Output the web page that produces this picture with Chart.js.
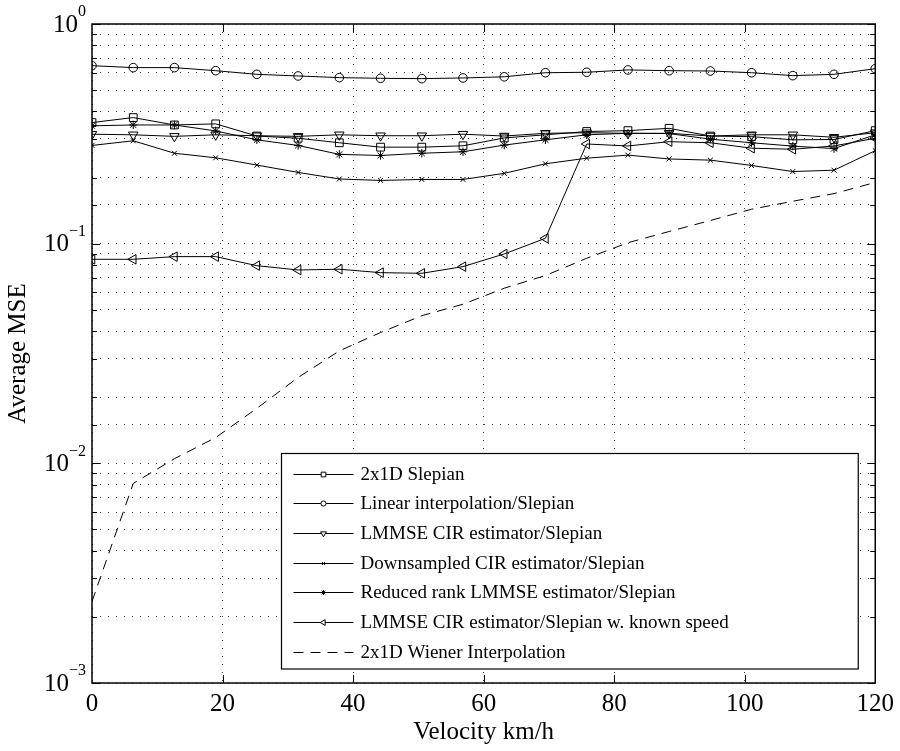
<!DOCTYPE html>
<html>
<head>
<meta charset="utf-8">
<script src="https://cdn.jsdelivr.net/npm/chart.js@4.4.0/dist/chart.umd.min.js"></script>
<style>
  html, body { margin: 0; padding: 0; background: #fff; }
  #wrap { width: 900px; height: 751px; }
</style>
</head>
<body>
<div id="wrap"><canvas id="mse" width="900" height="751"></canvas></div>
<script>
// velocities (km/h) used for every curve
const velocity = [0, 6.32, 12.63, 18.95, 25.26, 31.58, 37.89, 44.21, 50.53, 56.84,
                  63.16, 69.47, 75.79, 82.11, 88.42, 94.74, 101.05, 107.37, 113.68, 120];

// average MSE
const slepian2x1 = [0.356, 0.375, 0.347, 0.351, 0.309, 0.302, 0.288, 0.275, 0.275, 0.279,
                    0.303, 0.313, 0.324, 0.327, 0.335, 0.309, 0.307, 0.297, 0.298, 0.327];
const linearInterp = [0.646, 0.633, 0.633, 0.613, 0.590, 0.580, 0.570, 0.566, 0.564, 0.568,
                      0.575, 0.600, 0.603, 0.618, 0.613, 0.611, 0.600, 0.582, 0.590, 0.626];
const lmmseCir = [0.315, 0.313, 0.308, 0.313, 0.310, 0.308, 0.313, 0.310, 0.310, 0.315,
                  0.309, 0.318, 0.320, 0.318, 0.318, 0.309, 0.313, 0.313, 0.305, 0.320];
const downsampled = [0.280, 0.294, 0.258, 0.246, 0.228, 0.211, 0.197, 0.194, 0.196, 0.196,
                     0.209, 0.231, 0.245, 0.253, 0.243, 0.240, 0.227, 0.213, 0.216, 0.265];
const reducedRank = [0.344, 0.347, 0.347, 0.326, 0.297, 0.280, 0.255, 0.252, 0.258, 0.262,
                     0.281, 0.297, 0.313, 0.318, 0.317, 0.299, 0.288, 0.278, 0.271, 0.313];
const knownSpeed = [0.0849, 0.0849, 0.0873, 0.0873, 0.0794, 0.0759, 0.0765, 0.0738, 0.0733, 0.0786,
                    0.0898, 0.1058, 0.2843, 0.2785, 0.2912, 0.288, 0.272, 0.269, 0.2785, 0.302];
const wiener = [0.00235, 0.0081, 0.0105, 0.0131, 0.0178, 0.0246, 0.0325, 0.0394, 0.047, 0.053,
                0.0627, 0.0716, 0.0858, 0.101, 0.1136, 0.1275, 0.1435, 0.156, 0.169, 0.19];

const xTicks = [0, 20, 40, 60, 80, 100, 120];
const yDecades = [0, -1, -2, -3];

const FONT = "'Liberation Serif', 'Times New Roman', serif";

function pts(ys) {
    return velocity.map((v, i) => ({ x: v, y: ys[i] }));
}

// style per curve (marker, size, rotation, dash)
const curves = [
    { label: '2x1D Slepian', data: slepian2x1, style: 'rect', r: 5.5, rot: 0 },
    { label: 'Linear interpolation/Slepian', data: linearInterp, style: 'circle', r: 4.3, rot: 0 },
    { label: 'LMMSE CIR estimator/Slepian', data: lmmseCir, style: 'triangle', r: 5.5, rot: 180 },
    { label: 'Downsampled CIR estimator/Slepian', data: downsampled, style: 'crossRot', r: 3.5, rot: 0 },
    { label: 'Reduced rank LMMSE estimator/Slepian', data: reducedRank, style: 'star', r: 4.2, rot: 0 },
    { label: 'LMMSE CIR estimator/Slepian w. known speed', data: knownSpeed, style: 'triangle', r: 5.5, rot: 270 },
    { label: '2x1D Wiener Interpolation', data: wiener, style: false, r: 0, rot: 0, dash: [10, 7] }
];

const datasets = curves.map(c => ({
    label: c.label,
    data: pts(c.data),
    borderColor: '#000',
    backgroundColor: 'rgba(0,0,0,0)',
    borderWidth: 1,
    borderDash: c.dash || [],
    pointStyle: c.style,
    pointRadius: c.r,
    pointRotation: c.rot,
    pointBorderWidth: 1,
    pointBorderColor: '#000',
    pointBackgroundColor: 'rgba(0,0,0,0)',
    tension: 0
}));

// box, inward ticks and y labels 10^k
const axesBox = {
    id: 'axesBox',
    afterDatasetsDraw(chart) {
        const ctx = chart.ctx;
        const a = chart.chartArea;
        const xs = chart.scales.x, ys = chart.scales.y;
        ctx.save();
        ctx.strokeStyle = '#000';
        ctx.lineWidth = 1;
        ctx.beginPath();
        xTicks.slice(1, -1).forEach(v => {
            const px = Math.round(xs.getPixelForValue(v)) + 0.5;
            ctx.moveTo(px, a.bottom); ctx.lineTo(px, a.bottom - 8);
            ctx.moveTo(px, a.top); ctx.lineTo(px, a.top + 8);
        });
        ys.ticks.forEach(t => {
            const py = Math.round(ys.getPixelForValue(t.value)) + 0.5;
            const m = Math.abs(Math.log10(t.value) - Math.round(Math.log10(t.value))) < 1e-6;
            const len = m ? 8 : 5;
            ctx.moveTo(a.left, py); ctx.lineTo(a.left + len, py);
            ctx.moveTo(a.right, py); ctx.lineTo(a.right - len, py);
        });
        ctx.stroke();
        ctx.lineWidth = 1.5;
        ctx.strokeRect(a.left, a.top, a.right - a.left, a.bottom - a.top);

        ctx.fillStyle = '#000';
        ctx.textBaseline = 'middle';
        yDecades.forEach(k => {
            const py = ys.getPixelForValue(Math.pow(10, k));
            const exp = k === 0 ? '0' : '\u2212' + Math.abs(k);
            ctx.font = '16px ' + FONT;
            const ew = ctx.measureText(exp).width;
            ctx.textAlign = 'left';
            ctx.fillText(exp, a.left - 6 - ew, py - 12);
            ctx.font = '25px ' + FONT;
            ctx.textAlign = 'right';
            ctx.fillText('10', a.left - 6 - ew, py + 1);
        });
        ctx.restore();
    }
};

// legend box inside the axes
const boxLegend = {
    id: 'boxLegend',
    afterDraw(chart) {
        const ctx = chart.ctx;
        const a = chart.chartArea;
        const left = a.left + 189.5, top = a.top + 429.5, right = a.right - 17, bottom = a.bottom - 14;
        ctx.save();
        ctx.fillStyle = '#fff';
        ctx.fillRect(left, top, right - left, bottom - top);
        ctx.strokeStyle = '#000';
        ctx.lineWidth = 1.2;
        ctx.strokeRect(left, top, right - left, bottom - top);
        ctx.textBaseline = 'middle';
        ctx.textAlign = 'left';
        curves.forEach((c, i) => {
            const y = Math.round(top + 20 + i * 29.7) + 0.5;
            ctx.strokeStyle = '#000';
            ctx.lineWidth = 1;
            ctx.setLineDash(c.dash || []);
            ctx.beginPath();
            ctx.moveTo(left + 12, y);
            ctx.lineTo(left + 72, y);
            ctx.stroke();
            ctx.setLineDash([]);
            if (c.style) {
                ctx.fillStyle = '#fff';
                ctx.strokeStyle = '#000';
                Chart.helpers.drawPoint(ctx, {
                    pointStyle: c.style, radius: c.r * 0.6, rotation: c.rot, borderWidth: 1
                }, left + 42, y);
            }
            ctx.fillStyle = '#000';
            ctx.font = '19px ' + FONT;
            ctx.fillText(c.label, left + 79, y + 1);
        });
        ctx.restore();
    }
};

new Chart(document.getElementById('mse'), {
    type: 'line',
    data: { datasets: datasets },
    options: {
        responsive: false,
        devicePixelRatio: 1,
        animation: false,
        layout: { padding: { top: 24, right: 19, left: 0, bottom: 0 } },
        plugins: {
            legend: { display: false },
            tooltip: { enabled: false }
        },
        scales: {
            x: {
                type: 'linear',
                min: 0,
                max: 120,
                ticks: { stepSize: 20, color: '#000', padding: 6, font: { family: FONT, size: 25 } },
                grid: { color: 'rgba(0,0,0,0.75)', lineWidth: 1, drawTicks: false },
                border: { display: false, dash: [1, 7] },
                title: { display: true, text: 'Velocity km/h', color: '#000',
                         font: { family: FONT, size: 25 }, padding: { top: 0, bottom: 4 } },
                afterFit(s) { s.height = 68; }
            },
            y: {
                type: 'logarithmic',
                min: 0.001,
                max: 1,
                ticks: { display: false, autoSkip: false },
                grid: { color: 'rgba(0,0,0,0.75)', lineWidth: 1, drawTicks: false },
                border: { display: false, dash: [1, 7] },
                title: { display: true, text: 'Average MSE', color: '#000',
                         font: { family: FONT, size: 25 }, padding: 3 },
                afterFit(s) { s.width = 92; }
            }
        }
    },
    plugins: [axesBox, boxLegend]
});
</script>
</body>
</html>
